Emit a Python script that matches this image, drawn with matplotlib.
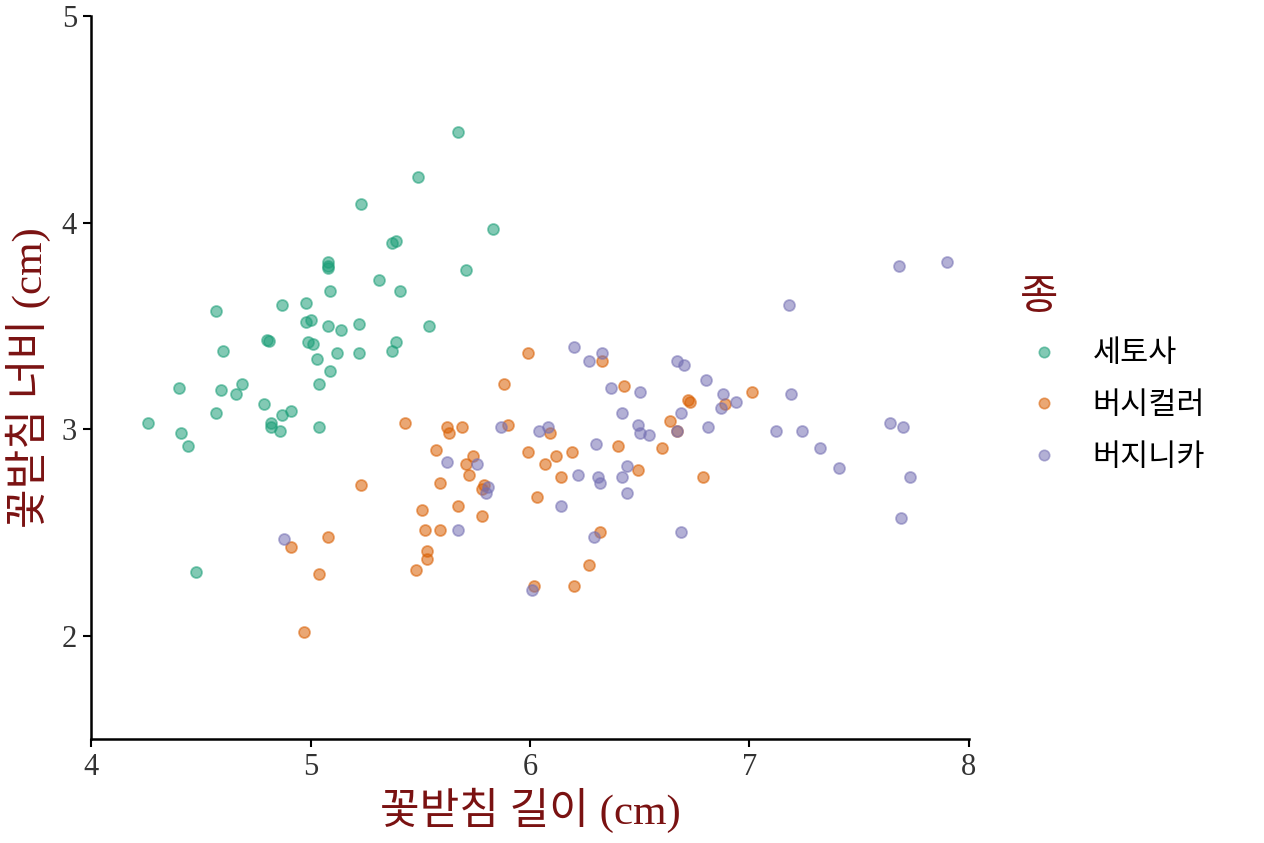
import matplotlib
matplotlib.use('Agg')
import matplotlib.pyplot as plt
from matplotlib.lines import Line2D

plt.rcParams['font.family'] = ['Liberation Serif', 'Noto Sans CJK KR', 'DejaVu Sans']

# 종별 꽃받침 길이 / 너비 (jitter 포함, 그림에서 읽은 값)
setosa_x = [5.67, 5.49, 5.23, 5.83, 5.37, 5.39, 5.71, 5.08, 5.08, 5.08,
            5.31, 5.09, 5.41, 4.57, 4.87, 4.98, 4.98, 5.00, 5.08, 5.14,
            5.22, 5.54, 4.80, 4.81, 4.60, 4.99, 5.01, 5.03, 5.12, 5.22,
            5.39, 5.37, 5.09, 4.40, 4.59, 4.69, 4.66, 5.04, 4.79, 4.57,
            4.87, 4.91, 4.82, 4.82, 4.26, 4.86, 5.04, 4.41, 4.44, 4.48]
setosa_y = [4.44, 4.22, 4.09, 3.97, 3.90, 3.91, 3.77, 3.81, 3.79, 3.78,
            3.72, 3.67, 3.67, 3.57, 3.60, 3.61, 3.52, 3.53, 3.50, 3.48,
            3.51, 3.50, 3.43, 3.425, 3.38, 3.42, 3.41, 3.34, 3.37, 3.37,
            3.42, 3.38, 3.28, 3.20, 3.19, 3.22, 3.17, 3.22, 3.12, 3.08,
            3.07, 3.09, 3.03, 3.01, 3.03, 2.99, 3.01, 2.98, 2.92, 2.31]

versicolor_x = [5.99, 5.88, 5.43, 5.62, 5.63, 5.69, 5.90, 6.09, 5.57, 5.74,
                5.71, 5.72, 5.59, 5.79, 5.78, 5.99, 6.12, 6.07, 6.14, 6.19,
                6.03, 5.23, 5.51, 5.67, 5.78, 4.91, 5.08, 5.04, 4.97, 5.52,
                5.59, 5.53, 5.53, 5.48, 6.32, 6.27, 6.20, 6.02, 6.33, 7.01,
                6.43, 6.72, 6.73, 6.89, 6.64, 6.67, 6.40, 6.60, 6.49, 6.79]
versicolor_y = [3.37, 3.22, 3.03, 3.01, 2.98, 3.01, 3.02, 2.98, 2.90, 2.87,
                2.83, 2.78, 2.74, 2.73, 2.71, 2.89, 2.87, 2.83, 2.77, 2.89,
                2.67, 2.73, 2.61, 2.63, 2.58, 2.43, 2.48, 2.30, 2.02, 2.51,
                2.51, 2.41, 2.37, 2.32, 2.50, 2.34, 2.24, 2.24, 3.33, 3.18,
                3.21, 3.14, 3.13, 3.12, 3.04, 2.99, 2.92, 2.91, 2.80, 2.77]

virginica_x = [5.87, 6.04, 6.08, 5.62, 5.76, 5.81, 5.80, 6.14, 4.88, 5.67,
               6.29, 6.01, 6.20, 6.27, 6.33, 6.67, 6.70, 6.80, 6.37, 6.50,
               6.88, 6.94, 6.87, 6.42, 6.69, 6.49, 6.67, 6.50, 6.54, 6.81,
               7.12, 6.30, 6.22, 6.31, 6.32, 6.44, 6.42, 6.44, 6.69, 7.68,
               7.90, 7.18, 7.19, 7.24, 7.32, 7.41, 7.64, 7.70, 7.73, 7.69]
virginica_y = [3.01, 2.99, 3.01, 2.84, 2.83, 2.72, 2.69, 2.63, 2.47, 2.51,
               2.48, 2.22, 3.40, 3.33, 3.37, 3.33, 3.31, 3.24, 3.20, 3.18,
               3.17, 3.13, 3.10, 3.08, 3.08, 3.02, 2.99, 2.98, 2.97, 3.01,
               2.99, 2.93, 2.78, 2.77, 2.74, 2.82, 2.77, 2.69, 2.50, 3.79,
               3.81, 3.60, 3.17, 2.99, 2.91, 2.81, 3.03, 3.01, 2.77, 2.57]

species = ['세토사', '버시컬러', '버지니카']
colors = ['#1B9E77', '#D95F02', '#7570B3']
label_color = '#7A1212'

fig = plt.figure(figsize=(12.64, 8.43), dpi=100)
ax = fig.add_axes([0.072, 0.1234, 0.6946, 0.8576])

series = [(setosa_x, setosa_y), (versicolor_x, versicolor_y), (virginica_x, virginica_y)]
for (xs, ys), c in zip(series, colors):
    ax.scatter(xs, ys, s=62, color=c, alpha=0.55, edgecolor=c, linewidth=1.3)

ax.set_xlim(4, 8)
ax.set_ylim(1.5, 5)
ax.set_xticks([4, 5, 6, 7, 8])
ax.set_yticks([2, 3, 4, 5])

for side in ['top', 'right']:
    ax.spines[side].set_visible(False)
for side in ['left', 'bottom']:
    ax.spines[side].set_linewidth(1.8)
ax.tick_params(axis='both', length=6, width=1.5, labelsize=22,
               labelcolor='#333333', pad=4)

ax.set_xlabel('꽃받침 길이 (cm)', fontsize=31, color=label_color, labelpad=4)
ax.set_ylabel('꽃받침 너비 (cm)', fontsize=31, color=label_color, labelpad=8)

handles = [Line2D([], [], marker='o', linestyle='', markersize=7.5,
                  markerfacecolor=c, markeredgecolor=c, alpha=0.55, markeredgewidth=1.2)
           for c in colors]
leg = fig.legend(handles, species, loc='upper left',
                 bbox_to_anchor=(992 / 1264, 1 - 249 / 843), frameon=False,
                 title='종', alignment='left', handletextpad=0.8,
                 labelspacing=0.68, handlelength=1.6,
                 prop={'family': ['Noto Sans CJK KR'], 'size': 22},
                 title_fontproperties={'family': ['Noto Sans CJK KR'], 'size': 30})
leg.get_title().set_color(label_color)

fig.savefig('out.png', dpi=100)
